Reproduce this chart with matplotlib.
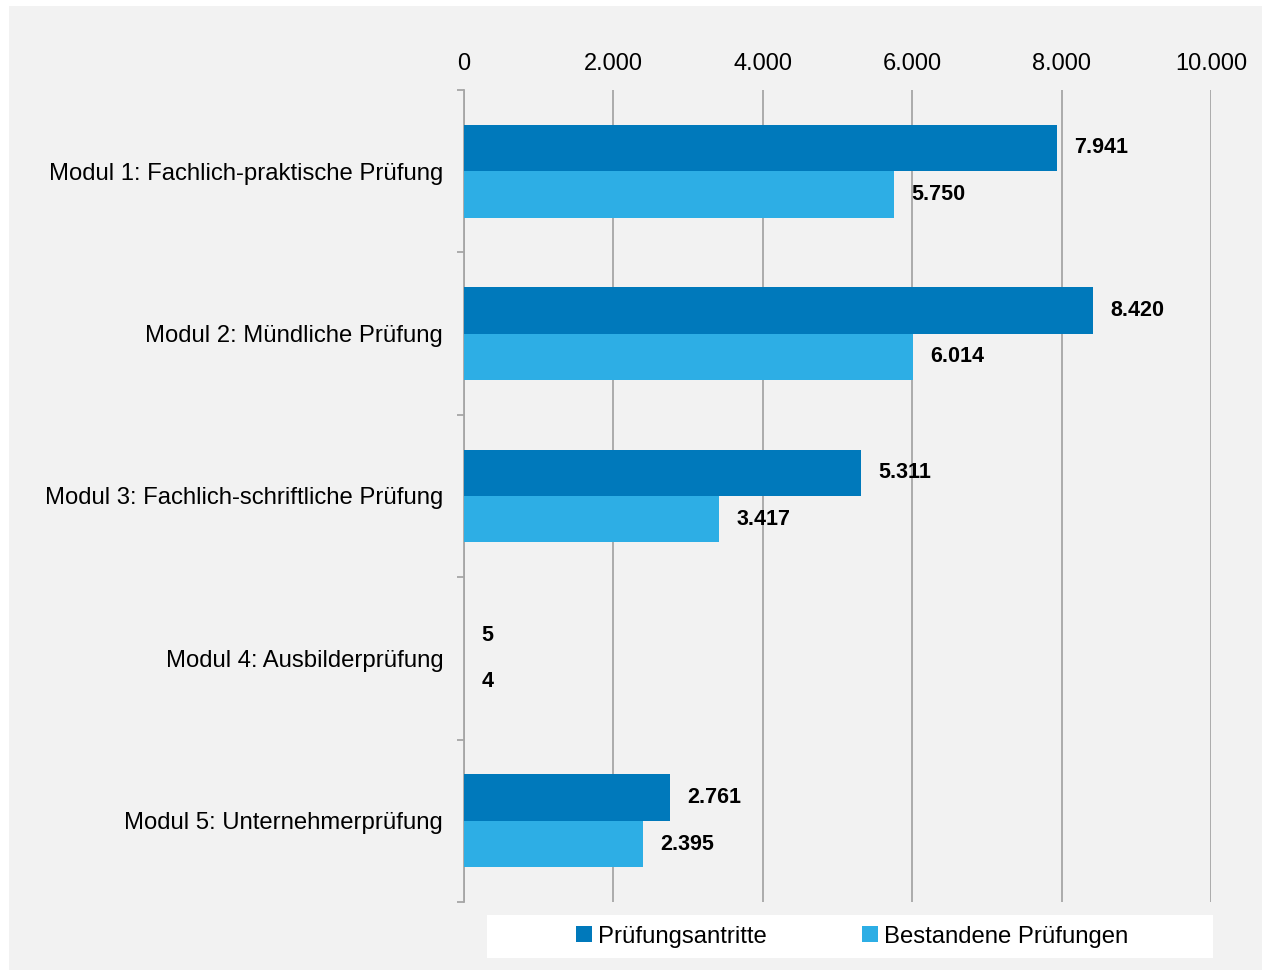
import matplotlib
matplotlib.use("Agg")
import matplotlib.pyplot as plt
import numpy as np
from matplotlib.patches import Rectangle

plt.rcParams['font.family'] = ['Liberation Sans', 'DejaVu Sans']

categories = ["Modul 1: Fachlich-praktische Prüfung",
              "Modul 2: Mündliche Prüfung",
              "Modul 3: Fachlich-schriftliche Prüfung",
              "Modul 4: Ausbilderprüfung",
              "Modul 5: Unternehmerprüfung"]
antritte = [7941, 8420, 5311, 5, 2761]
bestanden = [5750, 6014, 3417, 4, 2395]
series_names = ["Prüfungsantritte", "Bestandene Prüfungen"]
xticks = [0, 2000, 4000, 6000, 8000, 10000]
xticklabels = ["0", "2.000", "4.000", "6.000", "8.000", "10.000"]

c_dark = "#0079BB"
c_light = "#2DAEE5"
bg = "#F2F2F2"

fig = plt.figure(figsize=(12.63, 9.73), dpi=100)
fig.patch.set_facecolor("white")
fig.add_artist(Rectangle((9/1263, 3/973), 1253/1263, 964/973, transform=fig.transFigure,
                         facecolor=bg, edgecolor="none", zorder=0))

ax = fig.add_axes([464/1263, 1-902/973, (1211-464)/1263, (902-90)/973])
ax.set_facecolor(bg)
ax.patch.set_alpha(0)

n = len(categories)
y = np.arange(n)
h = 0.286
ax.barh(y - h/2, antritte, height=h, color=c_dark, zorder=3, label=series_names[0])
ax.barh(y + h/2, bestanden, height=h, color=c_light, zorder=3, label=series_names[1])

def fmt(v):
    return f"{v:,}".replace(",", ".")

for i in range(n):
    ax.annotate(fmt(antritte[i]), (antritte[i], y[i] - h/2), xytext=(12.5, 0),
                textcoords="offset points", ha="left", va="center",
                fontsize=15.5, fontweight="bold", zorder=4)
    ax.annotate(fmt(bestanden[i]), (bestanden[i], y[i] + h/2), xytext=(12.5, 0),
                textcoords="offset points", ha="left", va="center",
                fontsize=15.5, fontweight="bold", zorder=4)

ax.set_xlim(0, 10000)
ax.set_ylim(n - 0.5, -0.5)
ax.xaxis.tick_top()
ax.set_xticks(xticks)
ax.set_xticklabels(xticklabels, fontsize=17)
ax.tick_params(axis="x", length=0, pad=11)
ax.grid(axis="x", color="#A6A6A6", linewidth=1.3, zorder=1)

ax.set_yticks(y)
ax.set_yticklabels(categories, fontsize=17.2)
ax.tick_params(axis="y", length=0, pad=15)
ax.set_yticks(np.arange(-0.5, n + 0.5, 1), minor=True)
ax.tick_params(axis="y", which="minor", length=5, color="#A6A6A6", width=1.3)

for s in ["top", "right", "bottom"]:
    ax.spines[s].set_visible(False)
ax.spines["left"].set_color("#A6A6A6")
ax.spines["left"].set_linewidth(1.3)

# legend box
fig.add_artist(Rectangle((487/1263, 1-958/973), (1213-487)/1263, 43/973, transform=fig.transFigure,
                         facecolor="white", edgecolor="none", zorder=1))
leg = fig.legend(handles=ax.get_legend_handles_labels()[0], labels=series_names,
                 loc="center", bbox_to_anchor=((487+1213)/2/1263 + 2/1263, 1-936.5/973),
                 ncol=2, frameon=False, fontsize=17.2, handlelength=0.65, handleheight=0.65,
                 handletextpad=0.25, columnspacing=4.0)

fig.savefig("out.png", dpi=100, facecolor="white")
